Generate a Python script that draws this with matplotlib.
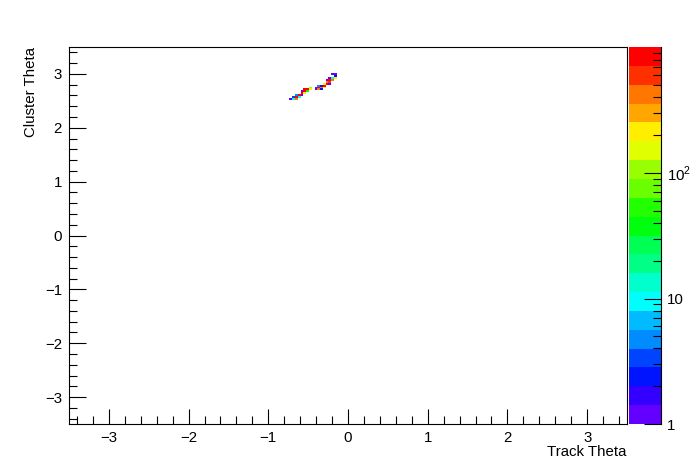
import colorsys
import numpy as np
import matplotlib
matplotlib.use("Agg")
import matplotlib.pyplot as plt
from matplotlib.colors import ListedColormap, LogNorm
from matplotlib.ticker import FixedLocator, MultipleLocator, NullFormatter

plt.rcParams['font.family'] = ['Liberation Sans', 'DejaVu Sans']
plt.rcParams['mathtext.fontset'] = 'custom'
plt.rcParams['mathtext.rm'] = 'Liberation Sans'

# histogram binning (200 x 200 over +-3.5)
n_bins = 200
lo, hi = -3.5, 3.5
z_max = 1010

# filled cells: bin index in x, bin index in y, entries
cell_ix = [94, 95, 95,
           93, 94, 95,
           92, 93, 94,
           92, 93,
           91, 92, 93,
           89, 90, 91,
           88, 89, 90, 91,
           88, 89, 90,
           86,
           84, 85, 86,
           83, 84, 85,
           83, 84,
           81, 82, 83,
           80, 81, 82,
           79, 80, 81]
cell_iy = [185, 185, 184,
           183, 183, 183,
           182, 182, 182,
           181, 181,
           180, 180, 180,
           179, 179, 179,
           178, 178, 178, 178,
           177, 177, 177,
           178,
           177, 177, 177,
           176, 176, 176,
           175, 175,
           174, 174, 174,
           173, 173, 173,
           172, 172, 172]
cell_n = [1, 1, 2,
          1, 12, 200,
          1, 850, 400,
          450, 700,
          180, 900, 1,
          4, 2, 800,
          3, 900, 500, 200,
          1, 400, 2,
          100,
          900, 800, 180,
          1, 1000, 40,
          900, 200,
          4, 800, 1,
          3, 900, 10,
          1, 12, 400]

width = (hi - lo) / n_bins
xs = lo + (np.array(cell_ix) + 0.5) * width
ys = lo + (np.array(cell_iy) + 0.5) * width

# ROOT "pretty" palette sampled at 20 contour levels
n_levels = 20
colors = []
for k in range(n_levels):
    idx = int((k + 0.99) * 50 / n_levels)
    hue = 280 - (idx + 1) * 5.6
    colors.append(colorsys.hls_to_rgb(hue / 360.0, 0.5, 1.0))
cmap = ListedColormap(colors)

fig = plt.figure(figsize=(6.96, 4.72), dpi=100)
ax = fig.add_axes([69 / 696, 48 / 472, 558 / 696, 377 / 472])
cax = fig.add_axes([629 / 696, 48 / 472, 32 / 696, 377 / 472])

h = ax.hist2d(xs, ys, bins=[n_bins, n_bins], range=[[lo, hi], [lo, hi]],
              weights=cell_n, cmap=cmap, norm=LogNorm(1, z_max), cmin=0.5)

ax.set_xlim(lo, hi)
ax.set_ylim(lo, hi)
ax.xaxis.set_major_locator(MultipleLocator(1))
ax.xaxis.set_minor_locator(MultipleLocator(0.2))
ax.yaxis.set_major_locator(MultipleLocator(1))
ax.yaxis.set_minor_locator(MultipleLocator(0.2))
ax.tick_params(axis='x', which='major', direction='in', length=11, width=0.8,
               labelsize=10.8, pad=5)
ax.tick_params(axis='x', which='minor', direction='in', length=5.5, width=0.8)
ax.tick_params(axis='y', which='major', direction='in', length=12, width=0.8,
               labelsize=10.8, pad=5)
ax.tick_params(axis='y', which='minor', direction='in', length=6, width=0.8)
for s in ax.spines.values():
    s.set_linewidth(0.8)

fig.text(626 / 696, 1 - 452 / 472, 'Track Theta', ha='right', va='center', fontsize=10.8)
fig.text(31 / 696, 1 - 47 / 472, 'Cluster Theta', ha='center', va='top',
         rotation=90, fontsize=10.8)

# colour scale
cb = fig.colorbar(h[3], cax=cax)
cb.outline.set_visible(False)
cax.spines['right'].set_visible(True)
cax.spines['right'].set_linewidth(0.8)
cax.yaxis.set_major_locator(FixedLocator([1, 10, 100]))
cax.yaxis.set_minor_locator(FixedLocator([m * d for d in (1, 10, 100) for m in range(2, 10)]))
cax.yaxis.set_minor_formatter(NullFormatter())
cax.set_yticklabels(['1', '10', '10$^{2}$'])
cax.tick_params(axis='y', which='major', direction='in', length=12, width=0.8,
                labelsize=10.8, pad=4)
cax.tick_params(axis='y', which='minor', direction='in', length=6, width=0.8)

fig.savefig('out.png', dpi=100)
